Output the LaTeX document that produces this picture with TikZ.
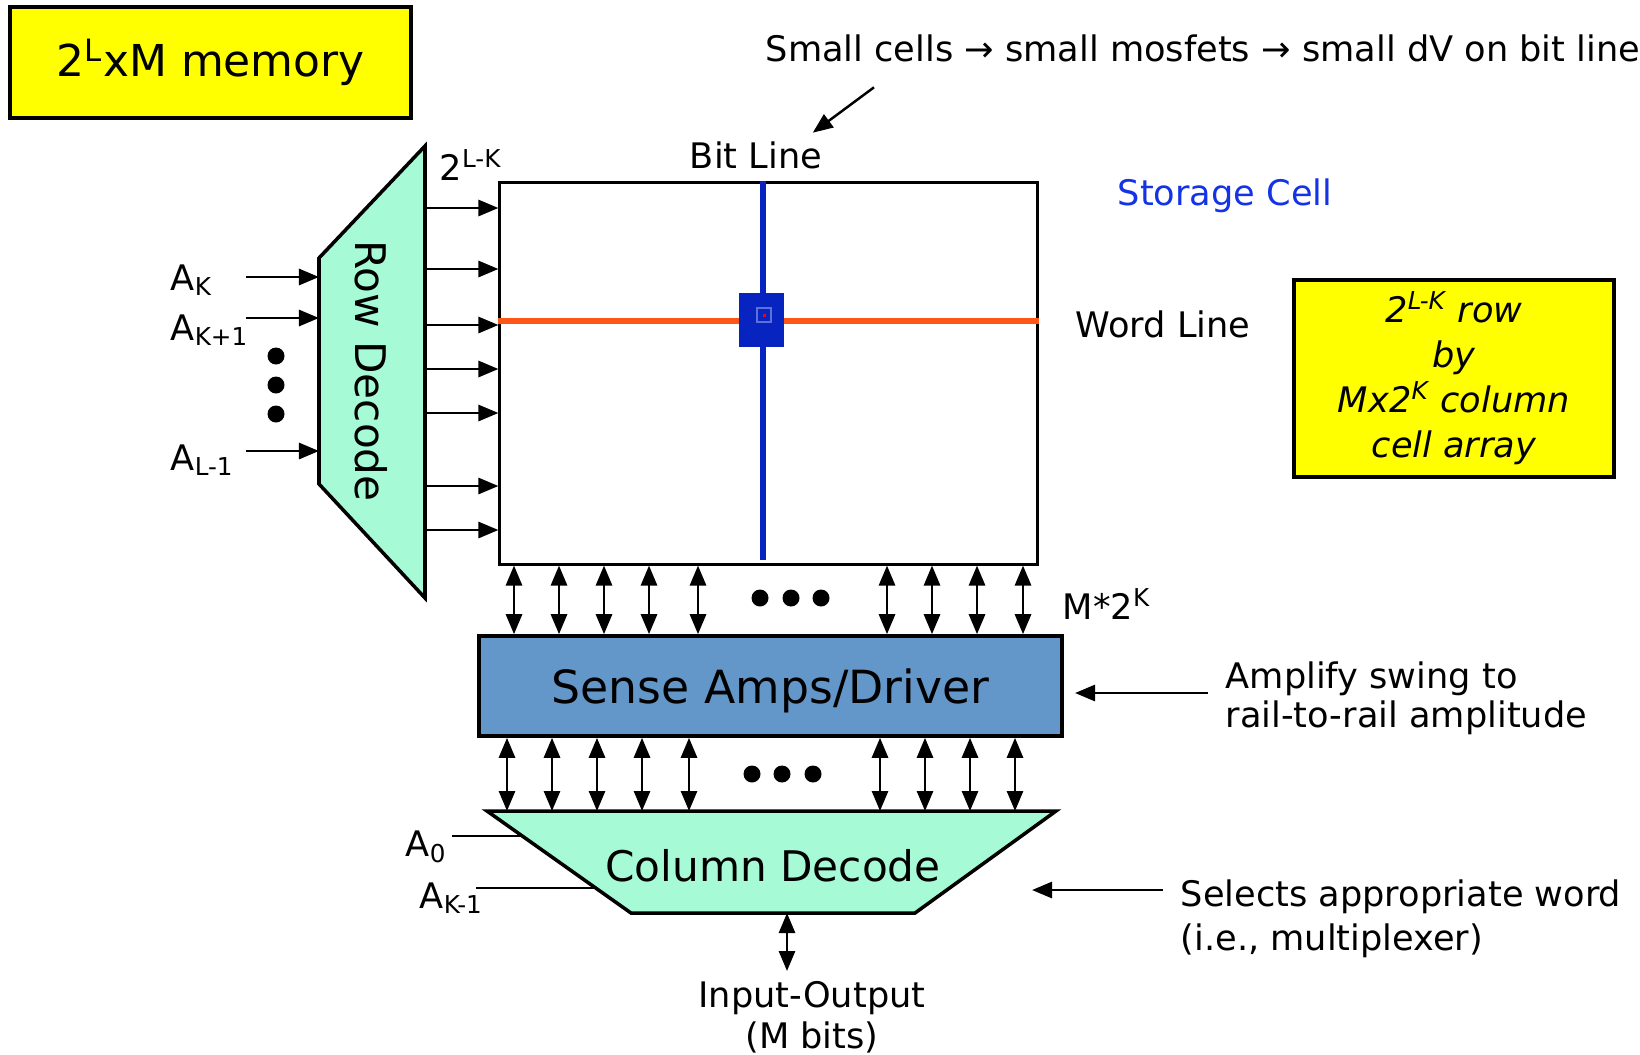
\documentclass[tikz,border=0pt]{standalone}
\usepackage{fontspec}
\setmainfont{DejaVu Sans}
\usetikzlibrary{arrows.meta,positioning}

\definecolor{memyellow}{RGB}{255,255,0}
\definecolor{decgreen}{RGB}{166,251,214}
\definecolor{ampblue}{RGB}{99,150,201}
\definecolor{linkblue}{RGB}{8,36,192}
\definecolor{wordorange}{RGB}{255,85,25}
\definecolor{labelblue}{RGB}{20,50,230}

\begin{document}
\begin{tikzpicture}[
  x=0.01cm, y=-0.01cm,
  note/.style={font=\fontsize{10}{11}\selectfont, inner sep=0pt},
  big/.style={font=\fontsize{12}{14}\selectfont, inner sep=0pt},
  yellowbox/.style={draw, line width=1pt, fill=memyellow, inner sep=0pt},
  arr/.style={-{Triangle[length=2mm,width=1.6mm]}, line width=0.8pt},
  biarr/.style={{Triangle[length=2mm,width=1.6mm]}-{Triangle[length=2mm,width=1.6mm]}, line width=0.8pt},
  bigdot/.style={circle, fill, inner sep=0pt, minimum size=1.7mm}
]
\useasboundingbox (0,0) rectangle (1640,1054);

% title
\node[yellowbox, font=\fontsize{12.5}{15}\selectfont, minimum width=4.01cm,
  minimum height=1.11cm] (title) at (210.5,62.5) {2\textsuperscript{L}xM memory};

% row decoder
\draw[line width=1pt, fill=decgreen] (425,146) -- (425,598) -- (319,484) -- (319,258) -- cycle;
\coordinate (rdin) at (319,371);
\coordinate (rdout) at (425,371);
\node[big, rotate=-90] (rowdec) at (371,371) {Row Decode};

% cell array
\node[draw, line width=0.8pt, minimum width=5.37cm, minimum height=3.81cm, inner sep=0pt] (array) at (768.5,373.5) {};
\coordinate (wordy) at (0,321);
\draw[wordorange, line width=1.5pt] (array.west |- wordy) -- (array.east |- wordy);
\coordinate (bitx) at (763,560);
\draw[linkblue, line width=1.5pt] (array.north -| bitx) -- (bitx);
\node[fill=linkblue, minimum width=0.45cm, minimum height=0.54cm, inner sep=0pt] (cell) at (761.5,320) {};
\node[draw=white!35!linkblue, line width=0.3pt, minimum size=0.14cm, inner sep=0pt] (cellcore) at (764,315) {};
\node[fill=red, minimum size=0.03cm, inner sep=0pt] (celldot) at (cellcore) {};

\foreach \y in {208,269,325,369,413,486,530}
  \draw[arr] (rdout |- 0,\y) -- (array.west |- 0,\y);

% row address
\coordinate (ain) at (246,371);
\foreach \y in {277,318,451}
  \draw[arr] (ain |- 0,\y) -- (rdin |- 0,\y);
\node[note, anchor=base west] (ak) at (170,290) {A\textsubscript{K}};
\node[note, anchor=base west] (ak1) at (170,340) {A\textsubscript{K+1}};
\node[note, anchor=base west] (al1) at (170,470) {A\textsubscript{L-1}};
\foreach \y [count=\i] in {356,385,414}
  \node[bigdot] (vdot\i) at (276,\y) {};

\node[note, anchor=base west] (rowcount) at (439,180) {2\textsuperscript{L-K}};
\node[note] (bitlabel) at (756,155) {Bit Line};
\node[note, anchor=west] (smallcells) at (765,48) {Small cells → small mosfets → small dV on bit line};
\draw[arr, line width=0.7pt] ([shift={(109,25)}]smallcells.south west) -- ([shift={(-10,-8)}]bitlabel.north east);

\node[note, text=labelblue, anchor=base west] (celllabel) at (1117,205) {Storage Cell};
\node[note, anchor=base west] (wordlabel) at (1075,337) {Word Line};
\node[yellowbox, font=\itshape\fontsize{10}{12.8}\selectfont, align=center, minimum width=3.2cm,
  minimum height=1.97cm] (arraynote) at (1454,378.5) {2\textsuperscript{L-K} row\\by\\Mx2\textsuperscript{K} column\\cell array};
\node[note, anchor=base west] (colcount) at (1062,619) {M*2\textsuperscript{K}};

% sense amps
\node[draw, line width=1pt, fill=ampblue, minimum width=5.83cm, minimum height=1.0cm, inner sep=0pt,
  text depth=0pt, font=\fontsize{13}{15}\selectfont] (amps) at (770.5,686) {Sense Amps/Driver};
\foreach \x in {514,559,604,649,698,887,932,977,1023}
  \draw[biarr] (array.south -| \x,0) -- (amps.north -| \x,0);
\foreach \x [count=\i] in {760,791,821}
  \node[bigdot] (udot\i) at (\x,598) {};

% column decoder
\draw[line width=1pt, fill=decgreen] (487,811) -- (1056,811) -- (915,913) -- (631,913) -- cycle;
\coordinate (cdtop) at (771,811);
\coordinate (cdbot) at (787,913);
\node[big] (coldec) at (773,866) {Column Decode};
\foreach \x in {507,552,597,642,689,880,925,970,1015}
  \draw[biarr] (amps.south -| \x,0) -- (cdtop -| \x,0);
\foreach \x [count=\i] in {752,782,813}
  \node[bigdot] (ldot\i) at (\x,774) {};

% column address
\coordinate (a0in) at (452,836);
\coordinate (a0end) at (522,836);
\coordinate (akin) at (476,888);
\coordinate (akend) at (596,888);
\draw[line width=0.8pt] (a0in) -- (a0end);
\draw[line width=0.8pt] (akin) -- (akend);
\node[note, anchor=base west] (a0) at (405,856) {A\textsubscript{0}};
\node[note, anchor=base west] (akm1) at (419,908) {A\textsubscript{K-1}};

% input-output
\coordinate (io) at (787,971);
\draw[biarr] (cdbot) -- (io);
\node[note, anchor=north, align=center, font=\fontsize{10}{11.6}\selectfont] (iolabel) at (812,981) {Input-Output\\(M bits)};

% side notes
\node[note, anchor=north west, align=left, font=\fontsize{10}{11}\selectfont] (amplify) at (1225,661)
  {Amplify swing to\\rail-to-rail amplitude};
\coordinate (ampin) at (1208,693);
\coordinate (ampend) at (1075,693);
\draw[arr] (ampin) -- (ampend);
\node[note, anchor=north west, align=left, font=\fontsize{10}{12.5}\selectfont] (selects) at (1180,879)
  {Selects appropriate word\\(i.e., multiplexer)};
\coordinate (selin) at (1163,890);
\coordinate (selend) at (1032,890);
\draw[arr] (selin) -- (selend);
\end{tikzpicture}
\end{document}
